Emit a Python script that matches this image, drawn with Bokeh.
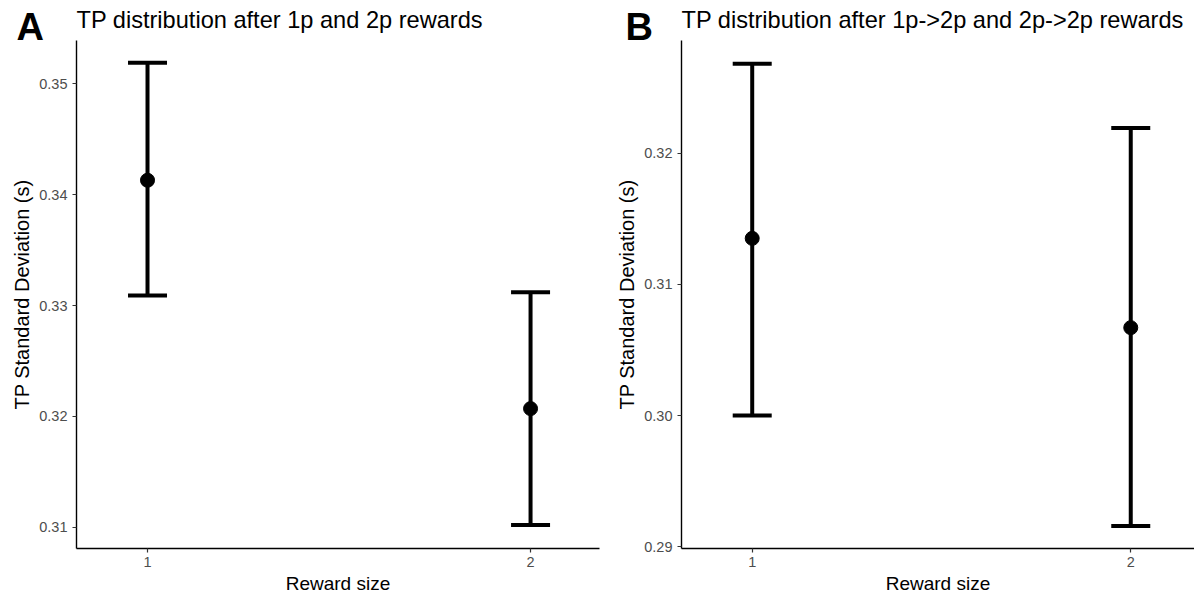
from bokeh.plotting import figure
from bokeh.models import (ColumnDataSource, Whisker, TeeHead, Label, FixedTicker,
                          PrintfTickFormatter, Range1d)
from bokeh.layouts import row, column
from bokeh.embed import file_html
from bokeh.resources import INLINE

FONT = "Liberation Sans"

# ---- data ----
reward_size = [1, 2]

a_mean = [0.3413, 0.3207]
a_lower = [0.3309, 0.3102]
a_upper = [0.3519, 0.3312]
a_ticks = [0.31, 0.32, 0.33, 0.34, 0.35]

b_mean = [0.3135, 0.3067]
b_lower = [0.3000, 0.2916]
b_upper = [0.3268, 0.3219]
b_ticks = [0.29, 0.30, 0.31, 0.32]

titles = ["TP distribution after 1p and 2p rewards",
          "TP distribution after 1p->2p and 2p->2p rewards"]
letters = ["A", "B"]
x_label = "Reward size"
y_label = "TP Standard Deviation (s)"

STRIP_H = 40          # band holding panel letters and titles
PLOT_H = 556
W_A, BL_A, BR_A = 602, 76, 3
W_B, BL_B, BR_B = 592, 79, 0


def panel(mean, lower, upper, yticks, width, xr, yr, border_left, border_right):
    p = figure(width=width, height=PLOT_H, output_backend="svg", toolbar_location=None,
               x_range=Range1d(*xr), y_range=Range1d(*yr), title=None,
               min_border_left=border_left, min_border_right=border_right,
               min_border_top=0, min_border_bottom=10)
    p.outline_line_color = None
    p.xgrid.visible = False
    p.ygrid.visible = False

    src = ColumnDataSource(dict(x=reward_size, m=mean, lo=lower, hi=upper))
    w = Whisker(base="x", lower="lo", upper="hi", source=src, dimension="height",
                line_color="black", line_width=4,
                lower_head=TeeHead(size=39, line_width=4, line_color="black"),
                upper_head=TeeHead(size=39, line_width=4, line_color="black"))
    p.add_layout(w)
    p.scatter("x", "m", source=src, size=14, color="black")

    for ax in (p.xaxis[0], p.yaxis[0]):
        ax.axis_line_color = "black"
        ax.axis_line_width = 1.4
        ax.major_tick_line_color = "#333333"
        ax.major_tick_line_width = 1.2
        ax.major_tick_out = 4
        ax.major_tick_in = 0
        ax.minor_tick_line_color = None
        ax.major_label_text_font = FONT
        ax.major_label_text_font_size = "14.5px"
        ax.major_label_text_color = "#4d4d4d"
        ax.axis_label_text_font = FONT
        ax.axis_label_text_font_style = "normal"
        ax.axis_label_text_color = "#000000"

    p.xaxis.ticker = FixedTicker(ticks=reward_size)
    p.xaxis.formatter = PrintfTickFormatter(format="%d")
    p.xaxis.axis_label = x_label
    p.xaxis.axis_label_text_font_size = "19px"
    p.xaxis.major_label_standoff = 4
    p.xaxis.axis_label_standoff = 3

    p.yaxis.ticker = FixedTicker(ticks=yticks)
    p.yaxis.formatter = PrintfTickFormatter(format="%.2f")
    p.yaxis.axis_label = y_label
    p.yaxis.axis_label_text_font_size = "20px"
    p.yaxis.major_label_standoff = 5
    p.yaxis.axis_label_standoff = 3
    return p


pa = panel(a_mean, a_lower, a_upper, a_ticks, W_A,
           (0.8146, 2.180), (0.30808, 0.35391), BL_A, BR_A)
pb = panel(b_mean, b_lower, b_upper, b_ticks, W_B,
           (0.8132, 2.1684), (0.28988, 0.32857), BL_B, BR_B)

# title band: panel letters (bold) and panel titles, aligned with each plot area
strip = figure(width=W_A + W_B, height=STRIP_H, output_backend="svg",
               toolbar_location=None, min_border=0, title=None,
               x_range=Range1d(0, W_A + W_B), y_range=Range1d(0, STRIP_H))
strip.axis.visible = False
strip.grid.visible = False
strip.outline_line_color = None

frame_lefts = [BL_A, W_A + BL_B]
letter_gaps = [60, 56]
for i in range(2):
    strip.add_layout(Label(x=frame_lefts[i] - letter_gaps[i], y=14,
                           x_units="screen", y_units="screen", text=letters[i],
                           text_font=FONT, text_font_size="38px", text_font_style="bold",
                           text_color="black", text_baseline="alphabetic"))
    strip.add_layout(Label(x=frame_lefts[i], y=21, x_units="screen", y_units="screen",
                           text=titles[i], text_font=FONT, text_font_size="23.6px",
                           text_color="black", text_baseline="alphabetic"))

layout = column(strip, row(pa, pb))
open("out.html", "w").write(file_html(layout, INLINE))
